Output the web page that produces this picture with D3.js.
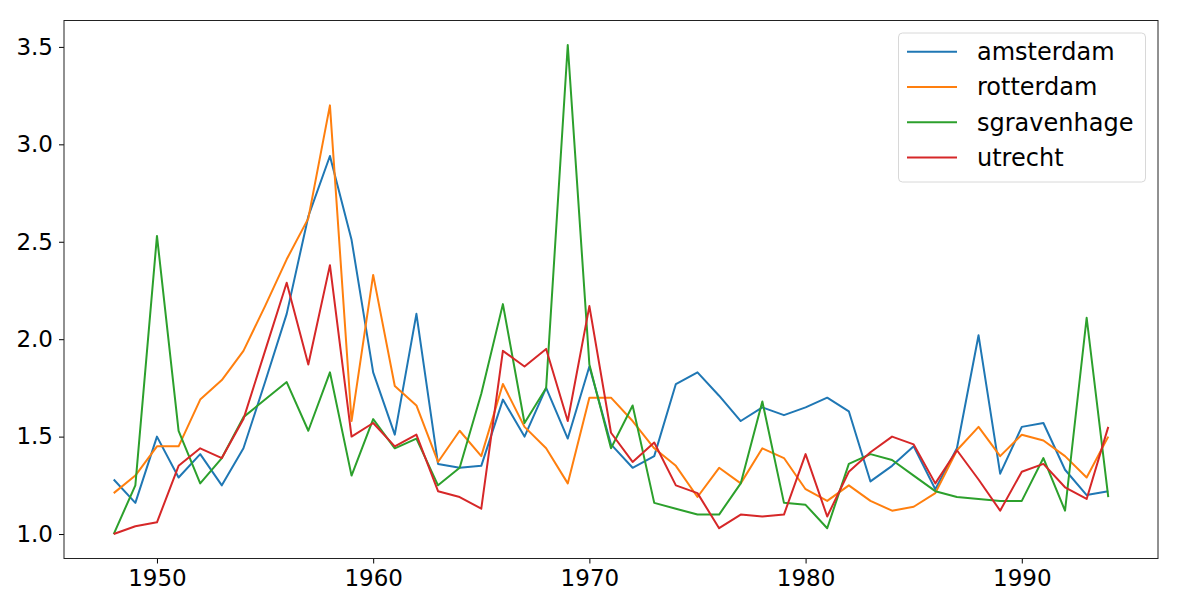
<!DOCTYPE html>
<html><head><meta charset="utf-8">
<script src="https://cdn.jsdelivr.net/npm/d3@7"></script>
<style>body{margin:0;background:#fff}svg{display:block}</style>
</head><body>
<svg id="chart" width="1200" height="602"></svg>
<script>
const years = d3.range(1948, 1995);
const seriesNames = ["amsterdam", "rotterdam", "sgravenhage", "utrecht"];
const colors = ["#1f77b4", "#ff7f0e", "#2ca02c", "#d62728"];
const amsterdam = [1.28,1.16,1.50,1.29,1.41,1.25,1.44,1.78,2.13,2.63,2.94,2.51,1.83,1.51,2.13,1.36,1.34,1.35,1.69,1.50,1.75,1.49,1.86,1.46,1.34,1.40,1.77,1.83,1.71,1.58,1.65,1.61,1.65,1.70,1.63,1.27,1.35,1.45,1.23,1.44,2.02,1.31,1.55,1.57,1.33,1.20,1.22];
const rotterdam = [1.21,1.30,1.45,1.45,1.69,1.79,1.94,2.17,2.41,2.62,3.20,1.58,2.33,1.76,1.66,1.37,1.53,1.40,1.77,1.55,1.44,1.26,1.70,1.70,1.58,1.44,1.35,1.19,1.34,1.26,1.44,1.39,1.23,1.17,1.25,1.17,1.12,1.14,1.21,1.43,1.55,1.40,1.51,1.48,1.40,1.29,1.50];
const sgravenhage = [1.00,1.25,2.53,1.53,1.26,1.39,1.60,1.69,1.78,1.53,1.83,1.30,1.59,1.44,1.49,1.25,1.34,1.72,2.18,1.57,1.75,3.51,1.87,1.44,1.66,1.16,1.13,1.10,1.10,1.26,1.68,1.16,1.15,1.03,1.36,1.41,1.38,1.30,1.22,1.19,1.18,1.17,1.17,1.39,1.12,2.11,1.19];
const utrecht = [1.00,1.04,1.06,1.35,1.44,1.39,1.59,1.94,2.29,1.87,2.38,1.50,1.57,1.45,1.51,1.22,1.19,1.13,1.94,1.86,1.95,1.58,2.17,1.52,1.37,1.47,1.25,1.21,1.03,1.10,1.09,1.10,1.41,1.09,1.32,1.42,1.50,1.46,1.26,1.43,1.28,1.12,1.32,1.36,1.24,1.18,1.55];
const xTicks = [1950, 1960, 1970, 1980, 1990];
const yTicks = [1.0, 1.5, 2.0, 2.5, 3.0, 3.5];

const data = [amsterdam, rotterdam, sgravenhage, utrecht];
const svg = d3.select("#chart");
const L = 64, R = 1158, T = 20.5, B = 558.5;
const allV = data.flat();
const xMin = d3.min(years), xMax = d3.max(years);
const yMin = d3.min(allV), yMax = d3.max(allV);
const xm = (xMax - xMin) * 0.05, ym = (yMax - yMin) * 0.05;
const x = d3.scaleLinear().domain([xMin - xm, xMax + xm]).range([L, R]);
const y = d3.scaleLinear().domain([yMin - ym, yMax + ym]).range([B, T]);

const font = "DejaVu Sans, sans-serif";
const xAxis = svg.append("g").attr("transform", `translate(0,${B})`)
  .call(d3.axisBottom(x).tickValues(xTicks).tickFormat(d3.format("d")).tickSize(5).tickPadding(6));
const yAxis = svg.append("g").attr("transform", `translate(${L},0)`)
  .call(d3.axisLeft(y).tickValues(yTicks).tickFormat(d3.format(".1f")).tickSize(5).tickPadding(6));
[xAxis, yAxis].forEach(a => {
  a.select(".domain").remove();
  a.selectAll("text").attr("font-family", font).attr("font-size", 23).attr("fill", "#000");
  a.selectAll("line").attr("stroke", "#000").attr("stroke-width", 1);
});

const line = d3.line().x((d, i) => x(years[i])).y(d => y(d));
data.forEach((s, k) => {
  svg.append("path").datum(s).attr("d", line)
    .attr("fill", "none").attr("stroke", colors[k]).attr("stroke-width", 2)
    .attr("stroke-linejoin", "round");
});

svg.append("rect").attr("x", L).attr("y", T).attr("width", R - L).attr("height", B - T)
  .attr("fill", "none").attr("stroke", "#222").attr("stroke-width", 1);

// legend
const lg = svg.append("g");
lg.append("rect").attr("x", 898.5).attr("y", 33).attr("width", 247).attr("height", 149)
  .attr("rx", 4).attr("fill", "#fff").attr("fill-opacity", 0.8)
  .attr("stroke", "#d8d8d8").attr("stroke-width", 1);
seriesNames.forEach((n, k) => {
  const yy = 51.7 + k * 35.3;
  lg.append("line").attr("x1", 907).attr("x2", 957).attr("y1", yy).attr("y2", yy)
    .attr("stroke", colors[k]).attr("stroke-width", 2);
  lg.append("text").attr("x", 977).attr("y", yy).attr("dy", "0.35em")
    .attr("font-family", font).attr("font-size", 24).attr("fill", "#000").text(n);
});
</script>
</body></html>
